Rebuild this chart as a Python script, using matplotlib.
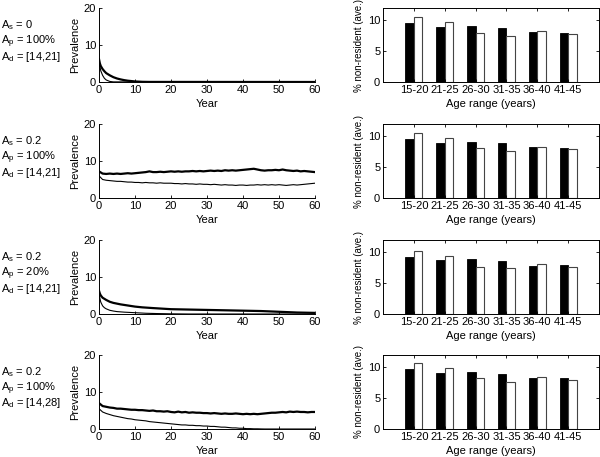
import matplotlib
matplotlib.use('Agg')
import matplotlib.pyplot as plt
import numpy as np

plt.rcParams['font.family'] = ['Liberation Sans', 'DejaVu Sans']
plt.rcParams['font.size'] = 8
plt.rcParams['mathtext.fontset'] = 'custom'
plt.rcParams['mathtext.rm'] = 'Liberation Sans'

# Parameter labels for each row
param_labels = [
    ['A$_\\mathregular{s}$ = 0', 'A$_\\mathregular{p}$ = 100%', 'A$_\\mathregular{d}$ = [14,21]'],
    ['A$_\\mathregular{s}$ = 0.2', 'A$_\\mathregular{p}$ = 100%', 'A$_\\mathregular{d}$ = [14,21]'],
    ['A$_\\mathregular{s}$ = 0.2', 'A$_\\mathregular{p}$ = 20%', 'A$_\\mathregular{d}$ = [14,21]'],
    ['A$_\\mathregular{s}$ = 0.2', 'A$_\\mathregular{p}$ = 100%', 'A$_\\mathregular{d}$ = [14,28]'],
]

# Prevalence curves (years, values) - thick and thin line per row
r1_thick_x = [0, 0.25, 0.5, 1, 1.5, 2, 3, 4, 5, 6, 7, 8, 9, 10, 12, 14, 60]
r1_thick_y = [6.2, 5.0, 4.3, 3.5, 2.9, 2.4, 1.8, 1.3, 0.95, 0.7, 0.5, 0.35, 0.25, 0.15, 0.05, 0.02, 0]
r1_thin_x = [0, 0.25, 0.5, 1, 1.5, 2, 3, 4, 60]
r1_thin_y = [6.0, 4.2, 3.0, 1.8, 1.0, 0.55, 0.15, 0.03, 0]

years = list(range(61))
r2_thick_y = [7.2, 6.6, 6.5, 6.6, 6.5, 6.6, 6.5, 6.6, 6.7, 6.6,
              6.7, 6.8, 6.9, 7.0, 7.2, 7.0, 7.0, 7.1, 7.0, 7.1,
              7.2, 7.1, 7.2, 7.1, 7.2, 7.2, 7.3, 7.2, 7.3, 7.2,
              7.3, 7.4, 7.3, 7.4, 7.3, 7.5, 7.4, 7.5, 7.4, 7.5,
              7.6, 7.7, 7.8, 7.9, 7.7, 7.5, 7.4, 7.5, 7.5, 7.6,
              7.5, 7.7, 7.5, 7.4, 7.3, 7.4, 7.2, 7.3, 7.2, 7.1,
              7.0]
r2_thin_y = [6.0, 5.0, 4.8, 4.7, 4.6, 4.5, 4.5, 4.4, 4.3, 4.3,
             4.2, 4.2, 4.1, 4.2, 4.1, 4.1, 4.0, 4.1, 4.0, 4.0,
             4.0, 3.9, 3.9, 3.8, 3.9, 3.8, 3.8, 3.7, 3.8, 3.7,
             3.7, 3.6, 3.7, 3.6, 3.5, 3.6, 3.5, 3.5, 3.4, 3.5,
             3.5, 3.4, 3.5, 3.5, 3.6, 3.5, 3.6, 3.5, 3.6, 3.5,
             3.6, 3.5, 3.4, 3.5, 3.6, 3.5, 3.6, 3.7, 3.8, 3.9,
             4.0]

r3_thick_x = [0, 0.25, 0.5, 1, 2, 3, 4, 5, 6, 8, 10, 12, 15, 20, 25, 30, 35, 40, 45, 50, 55, 60]
r3_thick_y = [6.3, 5.5, 5.0, 4.4, 3.8, 3.3, 3.0, 2.8, 2.6, 2.3, 2.0, 1.8, 1.6, 1.3, 1.2, 1.1,
              1.0, 0.9, 0.8, 0.6, 0.4, 0.3]
r3_thin_x = [0, 0.25, 0.5, 1, 1.5, 2, 3, 4, 5, 7, 10, 13, 16, 20, 25, 60]
r3_thin_y = [6.0, 4.2, 3.2, 2.2, 1.7, 1.4, 1.0, 0.8, 0.65, 0.5, 0.35, 0.2, 0.12, 0.05, 0.0, 0.0]

r4_thick_y = [7.0, 6.2, 6.0, 5.8, 5.7, 5.5, 5.5, 5.4, 5.3, 5.2,
              5.2, 5.1, 5.1, 5.0, 4.9, 5.0, 4.8, 4.8, 4.7, 4.8,
              4.6, 4.5, 4.7, 4.5, 4.6, 4.4, 4.5, 4.4, 4.4, 4.3,
              4.3, 4.2, 4.3, 4.2, 4.1, 4.2, 4.1, 4.1, 4.2, 4.1,
              4.0, 4.1, 4.0, 4.1, 4.0, 4.1, 4.2, 4.3, 4.4, 4.4,
              4.5, 4.6, 4.5, 4.7, 4.6, 4.7, 4.6, 4.6, 4.5, 4.6,
              4.6]
r4_thin_y = [5.5, 4.6, 4.2, 3.9, 3.6, 3.4, 3.2, 3.0, 2.8, 2.7,
             2.5, 2.4, 2.3, 2.2, 2.0, 1.9, 1.8, 1.7, 1.6, 1.5,
             1.4, 1.3, 1.2, 1.1, 1.1, 1.0, 1.0, 0.9, 0.9, 0.8,
             0.8, 0.7, 0.7, 0.6, 0.5, 0.5, 0.4, 0.3, 0.3, 0.2,
             0.2, 0.1, 0.1, 0.05, 0.05, 0.02, 0.0, 0.0, 0.0, 0.0,
             0.0, 0.0, 0.0, 0.0, 0.0, 0.0, 0.0, 0.0, 0.0, 0.0,
             0.0]

curves = [
    ((r1_thick_x, r1_thick_y), (r1_thin_x, r1_thin_y)),
    ((years, r2_thick_y), (years, r2_thin_y)),
    ((r3_thick_x, r3_thick_y), (r3_thin_x, r3_thin_y)),
    ((years, r4_thick_y), (years, r4_thin_y)),
]

# Bar charts: % non-resident by age range (black / white bars)
age_ranges = ['15-20', '21-25', '26-30', '31-35', '36-40', '41-45']
black_vals = [
    [9.5, 8.9, 9.1, 8.7, 8.1, 8.0],
    [9.6, 9.0, 9.1, 8.9, 8.2, 8.1],
    [9.25, 8.7, 8.9, 8.55, 7.8, 7.9],
    [9.7, 9.1, 9.2, 8.9, 8.3, 8.2],
]
white_vals = [
    [10.6, 9.7, 8.0, 7.5, 8.2, 7.8],
    [10.6, 9.7, 8.05, 7.6, 8.2, 7.9],
    [10.2, 9.35, 7.7, 7.4, 8.05, 7.6],
    [10.7, 9.85, 8.2, 7.6, 8.4, 7.9],
]

W, H = 600, 457
fig = plt.figure(figsize=(W / 100, H / 100), dpi=100)

row_tops = [8, 124, 240, 355]
ax_h = 74
for i in range(4):
    top = row_tops[i]
    bottom = (H - top - ax_h) / H

    # Prevalence plot
    ax = fig.add_axes([99 / W, bottom, 216 / W, ax_h / H])
    (tx, ty), (nx, ny) = curves[i]
    ax.plot(tx, ty, color='black', linewidth=1.6)
    ax.plot(nx, ny, color='black', linewidth=0.8)
    ax.set_xlim(0, 60)
    ax.set_ylim(0, 20)
    ax.set_xticks(range(0, 61, 10))
    ax.set_yticks([0, 10, 20])
    ax.spines['top'].set_visible(False)
    ax.spines['right'].set_visible(False)
    ax.tick_params(direction='in', length=2, width=0.6, pad=2, labelsize=8)
    for s in ax.spines.values():
        s.set_linewidth(0.7)
    ax.set_xlabel('Year', labelpad=3)
    ax.set_ylabel('Prevalence', labelpad=3)

    # parameter annotation, baseline-aligned lines
    mid = top + ax_h / 2 - 1
    for k, txt in enumerate(param_labels[i]):
        fig.text(1 / W, 1 - (mid + (k - 1) * 15.5) / H, txt,
                 ha='left', va='baseline', fontsize=8)

    # Bar plot
    bx = fig.add_axes([383 / W, bottom, 216 / W, ax_h / H])
    pos = np.arange(1, len(age_ranges) + 1)
    bw = 0.28
    bx.bar(pos - bw / 2, black_vals[i], width=bw, color='black', edgecolor='black', linewidth=0.6)
    bx.bar(pos + bw / 2, white_vals[i], width=bw, color='white', edgecolor='#444444', linewidth=0.8)
    bx.set_xlim(0, 7)
    bx.set_ylim(0, 12)
    bx.set_xticks(pos)
    bx.set_xticklabels(age_ranges)
    bx.set_yticks([0, 5, 10])
    bx.tick_params(direction='in', length=2, width=0.6, pad=2, labelsize=8,
                   top=True, right=True)
    for s in bx.spines.values():
        s.set_linewidth(0.7)
    bx.set_xlabel('Age range (years)', labelpad=3)
    bx.set_ylabel('% non-resident (ave.)', labelpad=3, fontsize=7)

fig.savefig('out.png', dpi=100, facecolor='white')
